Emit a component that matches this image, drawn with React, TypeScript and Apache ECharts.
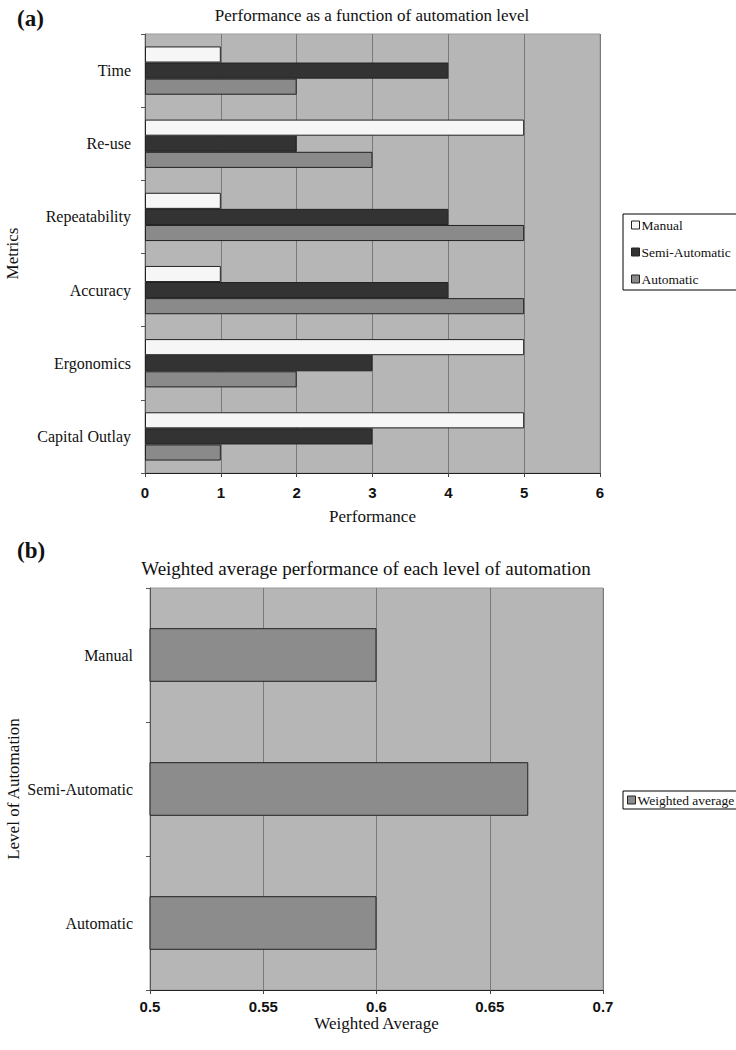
import React, { useEffect, useRef } from "react";
import * as echarts from "echarts";

const metrics = ["Time", "Re-use", "Repeatability", "Accuracy", "Ergonomics", "Capital Outlay"];
const manual = [1, 5, 1, 1, 5, 5];
const semiAutomatic = [4, 2, 4, 4, 3, 3];
const automatic = [2, 3, 5, 5, 2, 1];

const levels = ["Manual", "Semi-Automatic", "Automatic"];
const weightedAverage = [0.6, 0.667, 0.6];

const SERIF = "'Liberation Serif', 'DejaVu Serif', serif";
const SANS = "'Liberation Sans', Arial, sans-serif";

export default function App() {
  const ref = useRef<HTMLDivElement>(null);

  useEffect(() => {
    if (!ref.current) return;
    const chart = echarts.init(ref.current, undefined, { renderer: "svg" });

    const gridCommon = {
      show: true,
      containLabel: false,
      outerBoundsMode: "none",
      backgroundColor: "#b6b6b6",
      borderColor: "#9a9a9a",
      borderWidth: 1,
    };
    const catAxisCommon = {
      type: "category" as const,
      inverse: true,
      axisLine: { show: true, lineStyle: { color: "#555", width: 1 } },
      axisTick: { show: true, length: 4, lineStyle: { color: "#555" } },
      splitLine: { show: false },
      nameLocation: "middle" as const,
      nameRotate: 90,
      nameMoveOverlap: false,
      nameTextStyle: { fontFamily: SERIF, fontSize: 17, color: "#111" },
    };
    const valAxisCommon = {
      type: "value" as const,
      axisLine: { show: true, lineStyle: { color: "#222", width: 1 } },
      axisTick: { show: true, length: 4, lineStyle: { color: "#444" } },
      splitLine: { show: true, lineStyle: { color: "#7a7a7a", width: 1 } },
      nameLocation: "middle" as const,
      nameMoveOverlap: false,
      nameTextStyle: { fontFamily: SERIF, fontSize: 17, color: "#111" },
    };
    const barBorder = { borderColor: "#222", borderWidth: 1 };
    const legendCommon = {
      orient: "vertical" as const,
      backgroundColor: "#fff",
      borderColor: "#000",
      borderWidth: 1,
      icon: "rect",
      itemWidth: 8,
      itemHeight: 8,
      itemStyle: { borderColor: "#222", borderWidth: 1 },
      textStyle: { fontFamily: SERIF, fontSize: 13.5, color: "#111", padding: [0, 0, 0, -3] },
    };

    chart.setOption({
      animation: false,
      backgroundColor: "#fff",
      graphic: [
        { type: "text", left: 17, top: 7, style: { text: "(a)", font: `bold 23px ${SERIF}`, fill: "#111" } },
        { type: "text", x: 372, y: 15, style: { text: "Performance as a function of automation level", font: `17px ${SERIF}`, fill: "#111", textAlign: "center", textVerticalAlign: "middle" } },
        { type: "text", left: 17, top: 539, style: { text: "(b)", font: `bold 23px ${SERIF}`, fill: "#111" } },
        { type: "text", x: 366, y: 568, style: { text: "Weighted average performance of each level of automation", font: `19px ${SERIF}`, fill: "#111", textAlign: "center", textVerticalAlign: "middle" } },
      ],
      legend: [
        {
          ...legendCommon,
          data: ["Manual", "Semi-Automatic", "Automatic"],
          left: 623,
          top: 214,
          padding: [4, 30, 4, 8],
          itemGap: 13,
        },
        {
          ...legendCommon,
          data: ["Weighted average"],
          left: 623,
          top: 791,
          padding: [2, 30, 2, 4],
        },
      ],
      grid: [
        { ...gridCommon, left: 145, top: 34, width: 455, height: 439 },
        { ...gridCommon, left: 150, top: 588, width: 453, height: 402 },
      ],
      xAxis: [
        {
          ...valAxisCommon,
          gridIndex: 0,
          min: 0,
          max: 6,
          interval: 1,
          name: "Performance",
          nameGap: 35,
          axisLabel: { margin: 12, fontFamily: SANS, fontWeight: "bold", fontSize: 15, color: "#111" },
        },
        {
          ...valAxisCommon,
          gridIndex: 1,
          min: 0.5,
          max: 0.7,
          interval: 0.05,
          name: "Weighted Average",
          nameGap: 25,
          axisLabel: {
            margin: 9,
            fontFamily: SANS,
            fontWeight: "bold",
            fontSize: 15,
            color: "#111",
            formatter: (v: number) => String(Number(v.toFixed(2))),
          },
        },
      ],
      yAxis: [
        {
          ...catAxisCommon,
          gridIndex: 0,
          data: metrics,
          name: "Metrics",
          nameGap: 124,
          axisLabel: { margin: 14, fontFamily: SERIF, fontSize: 16, color: "#111" },
        },
        {
          ...catAxisCommon,
          gridIndex: 1,
          data: levels,
          name: "Level of Automation",
          nameGap: 128,
          axisLabel: { margin: 17, fontFamily: SERIF, fontSize: 16, color: "#111" },
        },
      ],
      series: [
        {
          name: "Manual",
          type: "bar",
          xAxisIndex: 0,
          yAxisIndex: 0,
          data: manual,
          barGap: "0%",
          barCategoryGap: "34%",
          itemStyle: { color: "#f6f6f6", ...barBorder },
        },
        {
          name: "Semi-Automatic",
          type: "bar",
          xAxisIndex: 0,
          yAxisIndex: 0,
          data: semiAutomatic,
          barGap: "0%",
          barCategoryGap: "34%",
          itemStyle: { color: "#333333", ...barBorder },
        },
        {
          name: "Automatic",
          type: "bar",
          xAxisIndex: 0,
          yAxisIndex: 0,
          data: automatic,
          barGap: "0%",
          barCategoryGap: "34%",
          itemStyle: { color: "#8a8a8a", ...barBorder },
        },
        {
          name: "Weighted average",
          type: "bar",
          xAxisIndex: 1,
          yAxisIndex: 1,
          data: weightedAverage,
          barWidth: "40%",
          itemStyle: { color: "#8c8c8c", ...barBorder },
        },
      ],
    });

    return () => chart.dispose();
  }, []);

  return (
    <div
      ref={ref}
      style={{ position: "absolute", left: 0, top: 0, width: 736, height: 1050 }}
    />
  );
}
